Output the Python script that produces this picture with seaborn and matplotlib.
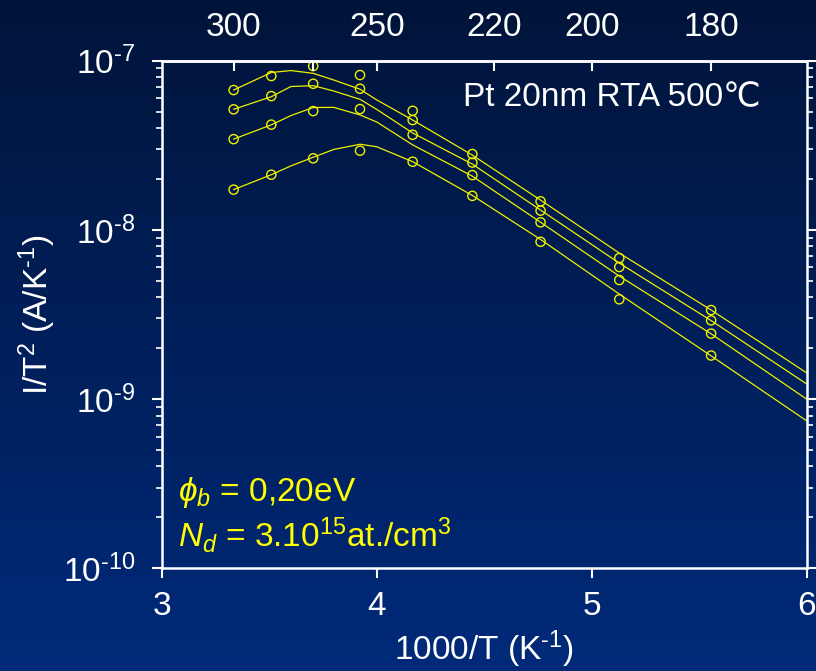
import matplotlib
matplotlib.use("Agg")
import matplotlib.pyplot as plt
import numpy as np
import pandas as pd
import seaborn as sns

# measured points: temperature (K) and I/T^2 for the four curves
temps = [300, 285, 270, 255, 240, 225, 210, 195, 180]
meas_1 = [6.71e-8, 8.12e-8, 9.30e-8, 8.23e-8, 5.06e-8, 2.81e-8, 1.476e-8, 6.82e-9, 3.36e-9]
meas_2 = [5.16e-8, 6.18e-8, 7.31e-8, 6.83e-8, 4.46e-8, 2.50e-8, 1.30e-8, 6.04e-9, 2.92e-9]
meas_3 = [3.44e-8, 4.19e-8, 5.04e-8, 5.18e-8, 3.65e-8, 2.11e-8, 1.109e-8, 5.06e-9, 2.44e-9]
meas_4 = [1.73e-8, 2.12e-8, 2.65e-8, 2.94e-8, 2.53e-8, 1.59e-8, 8.51e-9, 3.89e-9, 1.81e-9]

# fitted curves, read along 1000/T
fit_x = [3.333, 3.509, 3.6, 3.704, 3.8, 3.922, 4.0, 4.167, 4.444, 4.762, 5.128, 5.556, 6.0]
fit_1 = [6.71e-8, 8.52e-8, 8.75e-8, 8.42e-8, 7.69e-8, 6.78e-8, 5.86e-8, 4.46e-8, 2.77e-8, 1.50e-8, 7.30e-9, 3.36e-9, 1.43e-9]
fit_2 = [5.16e-8, 6.13e-8, 7.04e-8, 7.12e-8, 6.62e-8, 5.91e-8, 5.15e-8, 3.74e-8, 2.45e-8, 1.31e-8, 6.37e-9, 2.91e-9, 1.23e-9]
fit_3 = [3.44e-8, 4.18e-8, 4.74e-8, 5.29e-8, 5.30e-8, 4.78e-8, 4.34e-8, 3.18e-8, 2.08e-8, 1.11e-8, 5.34e-9, 2.43e-9, 1.00e-9]
fit_4 = [1.73e-8, 2.12e-8, 2.39e-8, 2.69e-8, 2.99e-8, 3.21e-8, 3.10e-8, 2.53e-8, 1.60e-8, 8.78e-9, 4.18e-9, 1.80e-9, 7.45e-10]

top_temps = [300, 270, 250, 220, 200, 180]
top_labels = ["300", "", "250", "220", "200", "180"]

y_ticks = [1e-10, 1e-9, 1e-8, 1e-7]
y_labels = ["$10^{\u201010}$", "$10^{\u20109}$", "$10^{\u20108}$", "$10^{\u20107}$"]

YELLOW = "#f0f000"
WHITE = "white"


def main():
    sns.set_theme(style="ticks")
    plt.rcParams["font.family"] = ["Liberation Sans", "DejaVu Sans"]
    plt.rcParams["mathtext.fontset"] = "custom"
    plt.rcParams["mathtext.rm"] = "Liberation Sans"
    plt.rcParams["mathtext.it"] = "Liberation Sans:italic"
    plt.rcParams["mathtext.default"] = "regular"

    meas_x = [1000.0 / t for t in temps]
    pts = pd.DataFrame({
        "x": meas_x * 4,
        "y": meas_1 + meas_2 + meas_3 + meas_4,
        "series": sum([[k] * len(meas_x) for k in range(4)], []),
    })
    fits = pd.DataFrame({
        "x": fit_x * 4,
        "y": fit_1 + fit_2 + fit_3 + fit_4,
        "series": sum([[k] * len(fit_x) for k in range(4)], []),
    })

    fig = plt.figure(figsize=(8.16, 6.71), dpi=100)

    # gradient background
    bg = fig.add_axes([0, 0, 1, 1], zorder=-10)
    grad = np.linspace(0, 1, 256).reshape(-1, 1)
    cmap = matplotlib.colors.LinearSegmentedColormap.from_list(
        "bg", ["#00143a", "#002a7a"])
    bg.imshow(grad, aspect="auto", cmap=cmap, extent=[0, 1, 0, 1])
    bg.set_xlim(0, 1)
    bg.set_ylim(0, 1)
    bg.axis("off")

    ax = fig.add_axes([0.1985, 0.153, 0.790, 0.7565])
    ax.set_facecolor("none")

    sns.lineplot(data=fits, x="x", y="y", units="series", estimator=None,
                 color=YELLOW, lw=0.9, ax=ax, legend=False)
    sns.scatterplot(data=pts, x="x", y="y", marker="o", s=44,
                    facecolor="none", edgecolor=YELLOW, linewidth=1.0,
                    ax=ax, legend=False, zorder=3)

    ax.set_yscale("log")
    ax.set_xlim(3, 6)
    ax.set_ylim(1e-10, 1e-7)
    ax.set_xticks([3, 4, 5, 6])
    ax.set_yticks(y_ticks)
    ax.set_yticklabels(y_labels)

    for s in ax.spines.values():
        s.set_color(WHITE)
        s.set_linewidth(1.8)

    ax.tick_params(axis="both", which="major", colors=WHITE, labelsize=24,
                   width=1.5, length=7, direction="out")
    ax.tick_params(axis="y", which="major", pad=12)
    ax.tick_params(axis="x", which="major", pad=9)
    ax.tick_params(axis="y", which="minor", colors=WHITE, width=1.2,
                   length=4, direction="out")
    ax.tick_params(axis="y", which="both", right=True, left=True)
    ax.tick_params(axis="x", which="both", top=False)

    ax.set_xlabel("1000/T (K$^{\u20101}$)", color=WHITE, fontsize=24,
                  labelpad=5)
    ax.set_ylabel("I/T$^{2}$ (A/K$^{\u20101}$)", color=WHITE, fontsize=24,
                  labelpad=4)

    # top axis in temperature
    ax2 = ax.twiny()
    ax2.set_xlim(3, 6)
    ax2.set_xticks([1000.0 / t for t in top_temps])
    ax2.set_xticklabels(top_labels)
    ax2.tick_params(axis="x", colors=WHITE, labelsize=24, width=1.5,
                    length=7, direction="in", pad=13)
    for name, s in ax2.spines.items():
        s.set_visible(name == "top")
        s.set_color(WHITE)
        s.set_linewidth(1.8)

    ax.text(0.928, 0.9265, "Pt 20nm RTA 500\u2103", transform=ax.transAxes,
            color=WHITE, fontsize=24, ha="right", va="center")
    ax.text(0.025, 0.15, r"$\mathit{\phi_b}$ = 0,20eV", transform=ax.transAxes,
            color="#ffff00", fontsize=24, ha="left", va="center")
    ax.text(0.025, 0.065, r"$\mathit{N_d}$ = 3.10$^{15}$at./cm$^{3}$",
            transform=ax.transAxes, color="#ffff00", fontsize=24,
            ha="left", va="center")

    fig.savefig("out.png", dpi=100)


if __name__ == "__main__":
    main()
